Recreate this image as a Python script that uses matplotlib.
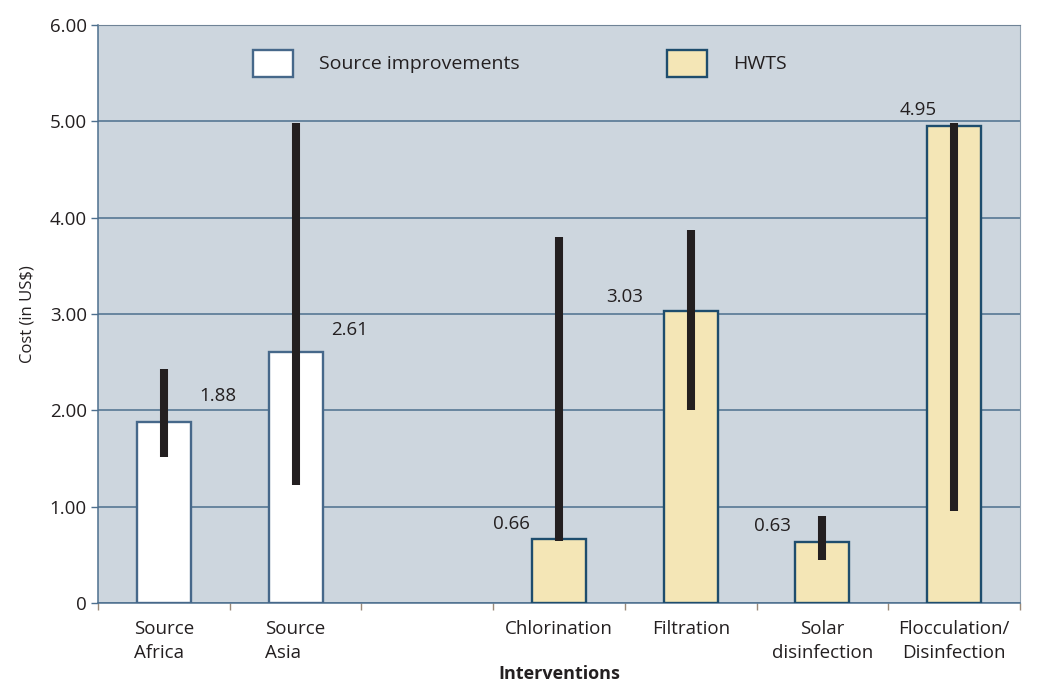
import matplotlib.pyplot as plt
from matplotlib.patches import Patch

plt.rcParams['font.family'] = ['Open Sans', 'DejaVu Sans']

categories = ["Source\nAfrica", "Source\nAsia", "", "Chlorination", "Filtration",
              "Solar\ndisinfection", "Flocculation/\nDisinfection"]
groups = ["src", "src", None, "hwts", "hwts", "hwts", "hwts"]
costs = [1.88, 2.61, None, 0.66, 3.03, 0.63, 4.95]
range_low = [1.52, 1.22, None, 0.64, 2.00, 0.45, 0.96]
range_high = [2.43, 4.98, None, 3.80, 3.87, 0.90, 4.98]
y_ticks = [0, 1, 2, 3, 4, 5, 6]
y_ticklabels = ["0", "1.00", "2.00", "3.00", "4.00", "5.00", "6.00"]

# label placement (offset from bar centre, height)
label_dx = [0.41, 0.41, None, -0.36, -0.50, -0.38, -0.27]
label_y = [2.15, 2.83, None, 0.82, 3.18, 0.80, 5.12]

bg = "#cdd6de"
grid_c = "#4d6f8e"
src_edge = "#46688a"
hwts_edge = "#1e4d6d"
hwts_fill = "#f4e6b6"
err_c = "#231f20"
txt_c = "#231f20"
fs = 13.5

fig = plt.figure(figsize=(10.38, 6.85), dpi=100)
ax = fig.add_axes([0.0944, 0.1197, 0.8883, 0.8438])
ax.set_facecolor(bg)

for i, v in enumerate(costs):
    if v is None:
        continue
    if groups[i] == "src":
        fc, ec = "white", src_edge
    else:
        fc, ec = hwts_fill, hwts_edge
    ax.bar(i, v, width=0.41, color=fc, edgecolor=ec, linewidth=1.7, zorder=3)
    ax.vlines(i, range_low[i], range_high[i], color=err_c, linewidth=5.8,
              capstyle="butt", zorder=4)
    ax.text(i + label_dx[i], label_y[i], f"{v:.2f}", ha="center", va="center",
            fontsize=fs, color=txt_c, zorder=5)

ax.set_xlim(-0.5, 6.5)
ax.set_ylim(0, 6)
ax.set_yticks(y_ticks)
ax.set_yticklabels(y_ticklabels, fontsize=fs, color=txt_c)
ax.yaxis.grid(True, color=grid_c, linewidth=1.1, zorder=1)
ax.set_axisbelow(True)

ax.set_xticks(range(len(categories)))
ax.set_xticklabels(categories, fontsize=fs, color=txt_c, linespacing=1.45)
for lbl, g in zip(ax.get_xticklabels(), groups):
    if g == "src":
        lbl.set_multialignment("left")
ax.tick_params(axis="x", which="major", length=0, pad=12)
ax.set_xticks([k - 0.5 for k in range(len(categories) + 1)], minor=True)
ax.tick_params(axis="x", which="minor", length=5, color="#9a8a7a", width=1)
ax.tick_params(axis="y", length=5, color=grid_c, width=1, pad=3)

for s in ["left", "bottom"]:
    ax.spines[s].set_color(grid_c)
    ax.spines[s].set_linewidth(1.1)
ax.spines["top"].set_color("#6f8396")
ax.spines["right"].set_color("#8fa0b0")

ax.set_ylabel(r"Cost (in US\$)", fontsize=12, color=txt_c, labelpad=10)
ax.set_xlabel("Interventions", fontsize=13, fontweight="bold", color=txt_c, labelpad=2)

handles = [Patch(facecolor="white", edgecolor=src_edge, linewidth=1.7),
           Patch(facecolor=hwts_fill, edgecolor=hwts_edge, linewidth=1.7)]
leg = ax.legend(handles, ["Source improvements", "HWTS"], ncol=2, frameon=False,
                loc="center left", bbox_to_anchor=(0.168, 0.934), fontsize=14,
                borderpad=0, borderaxespad=0,
                handlelength=2.05, handleheight=1.75, handletextpad=1.35,
                columnspacing=7.6)
for t in leg.get_texts():
    t.set_color(txt_c)

fig.savefig("out.png", dpi=100)
